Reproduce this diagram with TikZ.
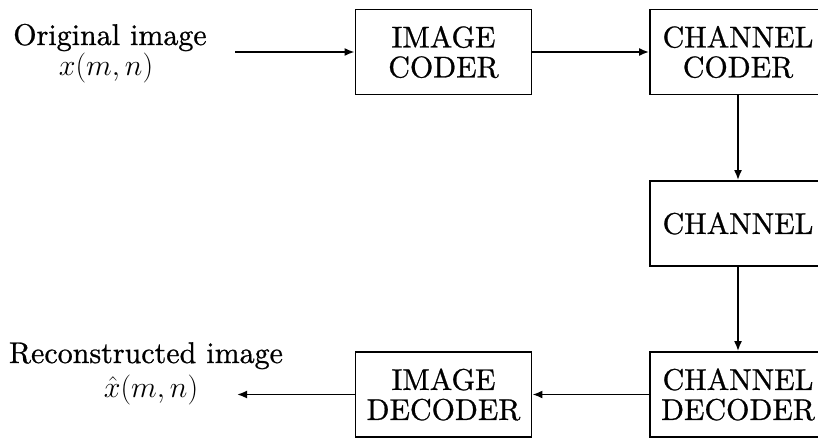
\RequirePackage{fix-cm}
\documentclass[tikz,border=0pt]{standalone}
\usepackage{fontspec}
\setmainfont{lmroman10-regular}[Extension=.otf, FakeBold=0.8]
\usetikzlibrary{arrows.meta}
\begin{document}
\begin{tikzpicture}[x=1pt,y=-1pt,
  box/.style={draw, line width=1.8pt, minimum width=176pt, minimum height=85pt,
    inner sep=0pt, align=center, font=\fontsize{30}{30}\selectfont},
  lbl/.style={anchor=base, inner sep=0pt, font=\fontsize{30}{30}\selectfont},
  arr/.style={line width=1.8pt, -{Latex[length=10pt,width=8pt]}}]
\useasboundingbox (0,0) rectangle (818,439);
\clip (0,0) rectangle (818,439);
\node[box] (ic) at (443.5,52) {IMAGE\\CODER};
\node[box] (cc) at (738,52) {CHANNEL\\CODER};
\node[box] (ch) at (738,223.5) {CHANNEL};
\node[box] (cd) at (738,394.5) {CHANNEL\\DECODER};
\node[box] (id) at (443.5,394.5) {IMAGE\\DECODER};
\node[lbl] (o1) at (110,45) {Original image};
\node[lbl] (o2) at (106,75) {$x(m,n)$};
\node[lbl] (r1) at (146,363) {Reconstructed image};
\node[lbl] (r2) at (151,397) {$\hat{x}(m,n)$};
\coordinate (a0) at (235,52);
\coordinate (b0) at (237,394.5);
\draw[arr] (a0) -- (ic.west);
\draw[arr] (ic.east) -- (cc.west);
\draw[arr] (cc.south) -- (ch.north);
\draw[arr] (ch.south) -- (cd.north);
\draw[arr] (cd.west) -- (id.east);
\draw[arr] (id.west) -- (b0);
\end{tikzpicture}
\end{document}
